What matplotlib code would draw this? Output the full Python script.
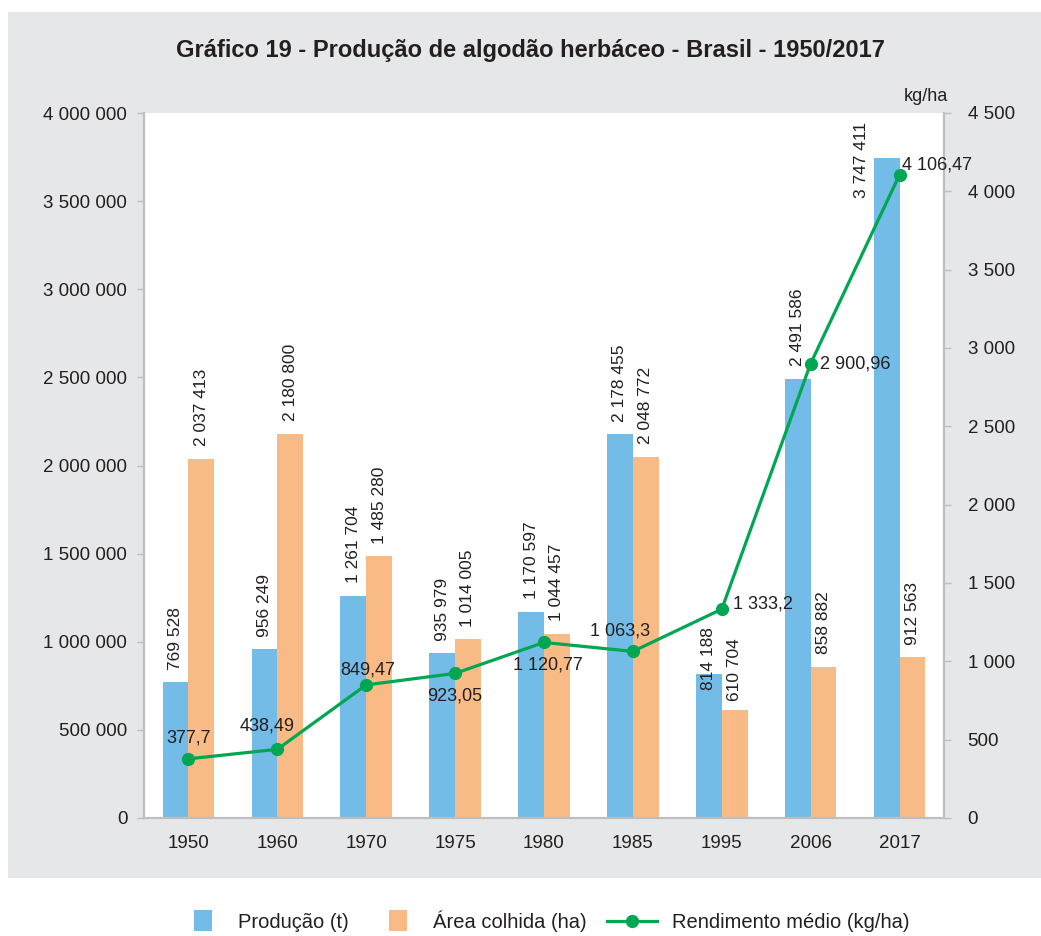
import matplotlib.pyplot as plt
from matplotlib.patches import Rectangle, Patch
from matplotlib.lines import Line2D
from matplotlib.legend_handler import HandlerPatch
from matplotlib.ticker import FuncFormatter, MultipleLocator
import numpy as np

# dados do gráfico
anos = ['1950', '1960', '1970', '1975', '1980', '1985', '1995', '2006', '2017']
producao = [769528, 956249, 1261704, 935979, 1170597, 2178455, 814188, 2491586, 3747411]
area = [2037413, 2180800, 1485280, 1014005, 1044457, 2048772, 610704, 858882, 912563]
rendimento = [377.7, 438.49, 849.47, 923.05, 1120.77, 1063.3, 1333.2, 2900.96, 4106.47]

plt.rcParams['font.family'] = ['Liberation Sans', 'DejaVu Sans']

AZUL = '#74bce8'
LARANJA = '#f9bb86'
VERDE = '#00a651'
CINZA = '#e6e7e8'
TEXTO = '#231f20'
EIXO = '#bcbec0'


def fmt_int(v, pos=None):
    return f'{v:,.0f}'.replace(',', ' ')


def fmt_dec(v):
    s = f'{v:,.2f}'.rstrip('0').rstrip('.')
    return s.translate(str.maketrans({',': ' ', '.': ','}))


fig = plt.figure(figsize=(10.41, 9.36), dpi=100, facecolor='white')
# fundo cinza atrás do gráfico
fig.patches.append(Rectangle((8 / 1041, 1 - 878 / 936), 1 - 8 / 1041, (878 - 12) / 936,
                             transform=fig.transFigure, facecolor=CINZA,
                             edgecolor='none', zorder=-10))

ax = fig.add_axes([144 / 1041, 1 - 818 / 936, 800 / 1041, 705 / 936])
ax.set_facecolor('white')
ax2 = ax.twinx()

x = np.arange(len(anos))
w = 0.29
ax.bar(x - w / 2, producao, w, color=AZUL)
ax.bar(x + w / 2, area, w, color=LARANJA)

ax.set_xlim(-0.5, len(anos) - 0.5)
ax.set_ylim(0, 4000000)
ax.yaxis.set_major_locator(MultipleLocator(500000))
ax.yaxis.set_major_formatter(FuncFormatter(fmt_int))
ax.set_xticks(x)
ax.set_xticklabels(anos)
ax.tick_params(axis='x', length=0, pad=12, labelsize=13.5, labelcolor=TEXTO)
ax.tick_params(axis='y', length=5, width=1, color=EIXO, pad=7, labelsize=13.5, labelcolor=TEXTO)

ax2.set_ylim(0, 4500)
ax2.yaxis.set_major_locator(MultipleLocator(500))
ax2.yaxis.set_major_formatter(FuncFormatter(fmt_int))
ax2.tick_params(axis='y', length=5, width=1, color=EIXO, pad=12, labelsize=13.5, labelcolor=TEXTO)

for a in (ax, ax2):
    a.spines['top'].set_visible(False)
    for s in ('left', 'right', 'bottom'):
        a.spines[s].set_color(EIXO)
        a.spines[s].set_linewidth(1.5)

# rótulos das barras (deslocamentos em pontos)
desl_prod = [(0, 9)] * 6 + [(0, -11), (0, 9), (-18, -2)]
desl_area = [(0, 9)] * 6 + [(0, 7), (0, 9), (0, 9)]
for i in range(len(anos)):
    dx, dy = desl_prod[i]
    ax.annotate(fmt_int(producao[i]), (x[i] - w / 2, producao[i]), xytext=(dx, dy),
                textcoords='offset points', rotation=90, ha='center',
                va='center' if dx else 'bottom', fontsize=12.5, color=TEXTO)
    dx, dy = desl_area[i]
    ax.annotate(fmt_int(area[i]), (x[i] + w / 2, area[i]), xytext=(dx, dy),
                textcoords='offset points', rotation=90, ha='center',
                va='bottom', fontsize=12.5, color=TEXTO)

ax2.plot(x, rendimento, color=VERDE, lw=2.3, marker='o', ms=8.5)

desl_rend = [(0, 15, 'center'), (-7, 16.5, 'center'), (1, 11, 'center'),
             (0, -16, 'center'), (3, -16, 'center'), (-9, 14.5, 'center'),
             (8, 3.5, 'left'), (6.5, 0, 'left'), (1.5, 7, 'left')]
for i, (dx, dy, ha) in enumerate(desl_rend):
    ax2.annotate(fmt_dec(rendimento[i]), (x[i], rendimento[i]), xytext=(dx, dy),
                 textcoords='offset points', ha=ha, va='center',
                 fontsize=13, color=TEXTO)

ax2.text(1.005, 1.012, 'kg/ha', transform=ax2.transAxes, ha='right', va='bottom',
         fontsize=13, color=TEXTO)

fig.text(0.51, 1 - 50 / 936, 'Gráfico 19 - Produção de algodão herbáceo - Brasil - 1950/2017',
         ha='center', va='center', fontsize=17, fontweight='bold', color=TEXTO)


def caixa(legend, orig_handle, xdescent, ydescent, width, height, fontsize):
    return Rectangle((-xdescent + 0.40 * width, -ydescent - 0.25 * height),
                     0.36 * width, 1.5 * height)


p1 = Patch(facecolor=AZUL)
p2 = Patch(facecolor=LARANJA)
linha = Line2D([], [], color=VERDE, lw=2.3, marker='o', ms=8.5)
fig.legend([p1, p2, linha], ['Produção (t)', 'Área colhida (ha)', 'Rendimento médio (kg/ha)'],
           loc='center', bbox_to_anchor=(0.52, 1 - 921 / 936), ncol=3, frameon=False,
           fontsize=14.5, handlelength=2.5, handletextpad=0.7, columnspacing=1.0,
           handler_map={p1: HandlerPatch(patch_func=caixa), p2: HandlerPatch(patch_func=caixa)},
           labelcolor=TEXTO)

fig.savefig('out.png', dpi=100, facecolor='white')
